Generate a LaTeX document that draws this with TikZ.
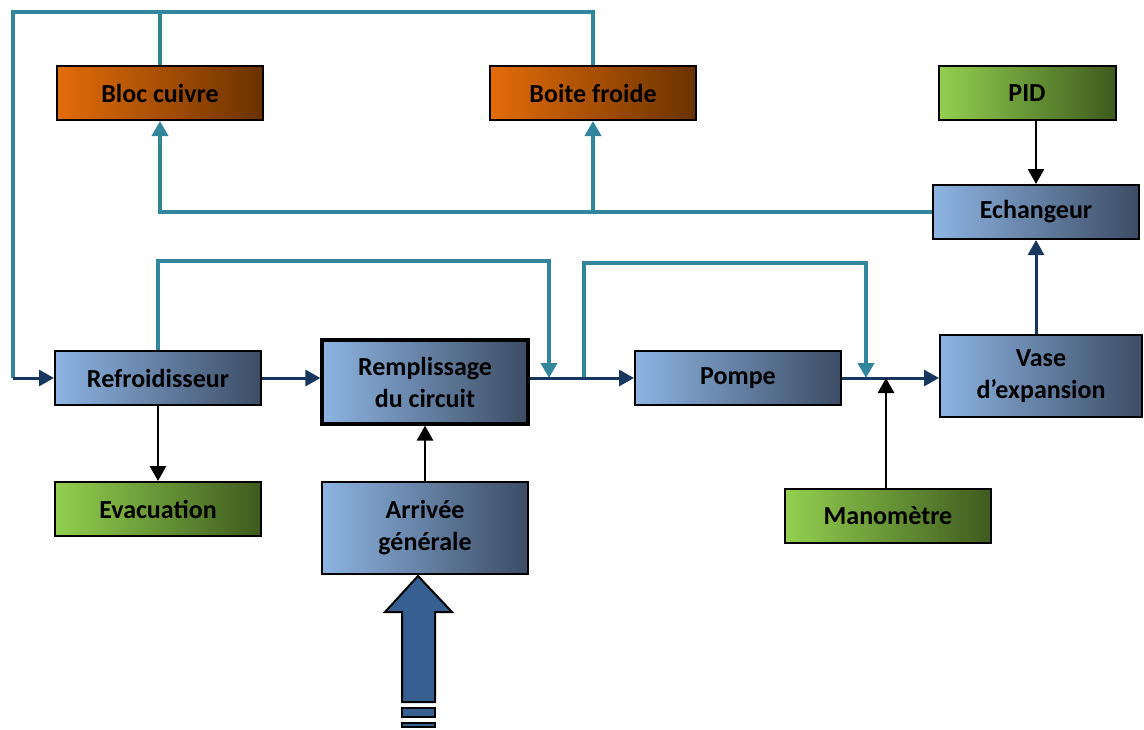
\documentclass[tikz,border=0pt]{standalone}
\usepackage{fontspec}
\setmainfont{Carlito}
\usetikzlibrary{arrows.meta, positioning}
\definecolor{boxblue}{HTML}{8DB4E2}
\definecolor{boxnavy}{HTML}{3C4C64}
\definecolor{boxorange}{HTML}{E46C0A}
\definecolor{boxbrown}{HTML}{6A3200}
\definecolor{boxgreen}{HTML}{92D050}
\definecolor{boxolive}{HTML}{3E5A1E}
\definecolor{pipeteal}{HTML}{31859C}
\definecolor{pipenavy}{HTML}{17375E}
\definecolor{inletblue}{HTML}{376092}

\begin{document}
\begin{tikzpicture}[x=0.5pt, y=-0.5pt, >={Triangle[length=7.5pt,width=8pt]},
  font=\bfseries\fontsize{13}{16}\selectfont,
  blk/.style={draw=black, line width=1pt, minimum width=103pt, minimum height=27pt, align=center, inner sep=2pt},
  bluebox/.style={blk, left color=boxblue, right color=boxnavy},
  orangebox/.style={blk, left color=boxorange, right color=boxbrown},
  greenbox/.style={blk, left color=boxgreen, right color=boxolive},
  tealpipe/.style={draw=pipeteal, line width=1.8pt},
  navypipe/.style={draw=pipenavy, line width=1.5pt},
  blackpipe/.style={draw=black, line width=1.4pt}]
  \useasboundingbox (0,0) rectangle (1144,729);
  \node[orangebox] (bloc) at (160,93) {Bloc cuivre};
  \node[orangebox] (boite) at (593,93) {Boite froide};
  \node[greenbox, minimum width=88.5pt] (pid) at (1027,93) {PID};
  \node[bluebox] (ech) at (1036,212) {Echangeur};
  \node[bluebox] (refr) at (158,378) {Refroidisseur};
  \node[bluebox, line width=1.6pt, minimum height=42pt] (rempl) at (425,382) {Remplissage\\du circuit};
  \node[bluebox] (pompe) at (738,378) {Pompe};
  \node[bluebox, minimum width=101pt, minimum height=41pt] (vase) at (1041,376) {Vase\\d’expansion};
  \node[greenbox] (evac) at (158,509) {Evacuation};
  \node[bluebox, minimum height=46pt] (arriv) at (425,528) {Arrivée\\générale};
  \node[greenbox] (mano) at (888,516) {Manomètre};

  \coordinate (lt) at (13,12);
  \coordinate (lb) at (13,378);
  \coordinate (m1) at (549,378);
  \coordinate (m2) at (584,378);
  \coordinate (m3) at (866,378);
  \coordinate (jb) at (boite.south |- ech.west);

  \draw[tealpipe] (boite.north) |- (lt) -- (lb);
  \draw[tealpipe] (bloc.north) -- (bloc.north |- lt);
  \draw[tealpipe, ->] (ech.west) -| (bloc.south);
  \draw[tealpipe, ->] (jb) -- (boite.south);
  \draw[tealpipe, ->] (refr.north) -- ++(0,-89) -| (m1);
  \draw[tealpipe, ->] (m2) -- ++(0,-115) -| (m3);

  \draw[navypipe, ->] (lb) -- (refr.west);
  \draw[navypipe, ->] (refr.east) -- (refr.east -| rempl.west);
  \draw[navypipe, ->] (rempl.east |- pompe.west) -- (pompe.west);
  \draw[navypipe, ->] (pompe.east) -- (vase.west |- pompe.east);
  \draw[navypipe, ->] (ech.south |- vase.north) -- (ech.south);

  \draw[blackpipe, ->] (ech.north |- pid.south) -- (ech.north);
  \draw[blackpipe, ->] (refr) -- (evac);
  \draw[blackpipe, ->] (arriv) -- (rempl);
  \draw[blackpipe, ->] (mano.north -| 886,0) -- (886,378);

  \draw[fill=inletblue, line width=1pt] (418,576) -- (452,612) -- (435,612) -- (435,702)
    -- (402,702) -- (402,612) -- (385,612) -- cycle;
  \draw[fill=inletblue, line width=1pt] (402,708) rectangle (435,717);
  \draw[fill=inletblue, line width=1pt] (402,723) rectangle (435,727);
\end{tikzpicture}
\end{document}
